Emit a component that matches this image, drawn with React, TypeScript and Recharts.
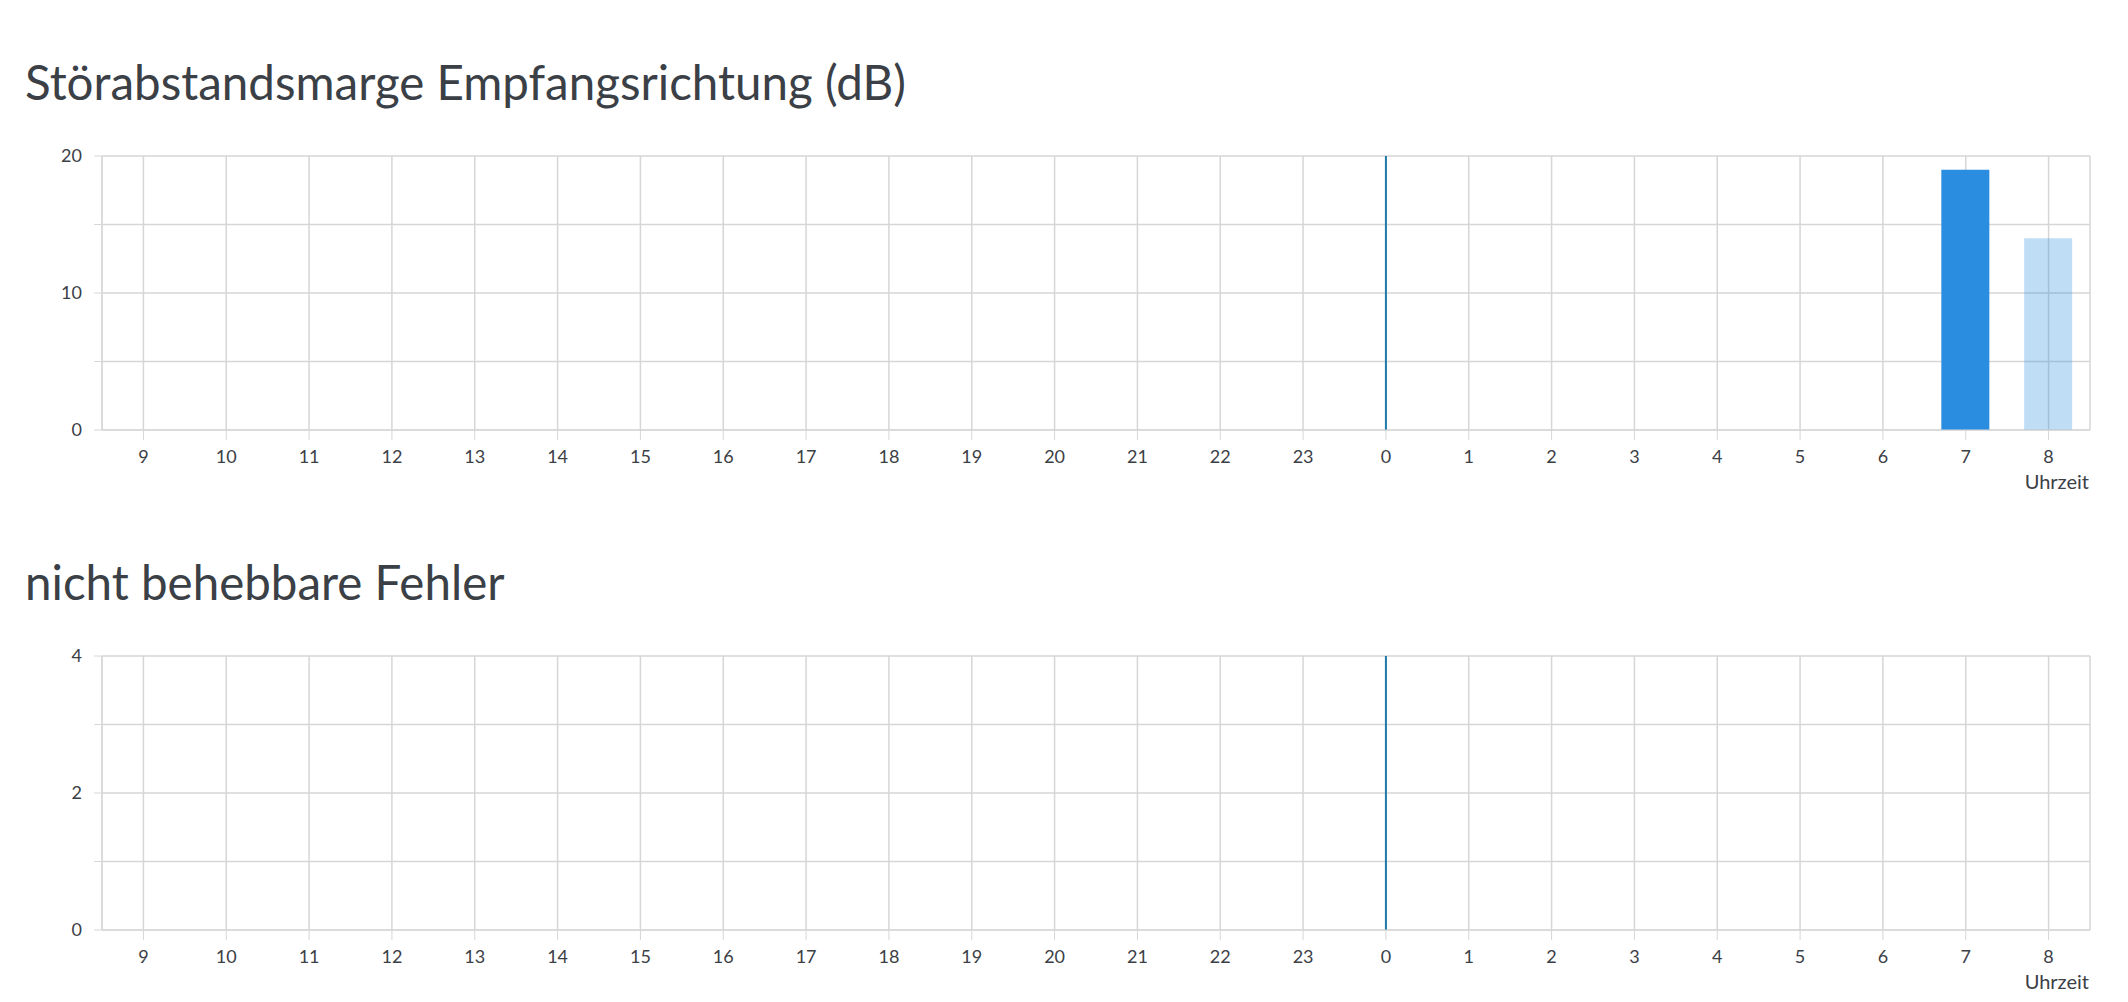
import React from 'react';
import { BarChart, Bar, XAxis, YAxis, CartesianGrid, ReferenceLine, Cell } from 'recharts';

// hours of the last 24h, day boundary at "0"
const hours = ['9', '10', '11', '12', '13', '14', '15', '16', '17', '18', '19', '20', '21', '22', '23', '0', '1', '2', '3', '4', '5', '6', '7', '8'];
const currentHour = '8';
const dayBoundary = '0';

const snrMargin = [null, null, null, null, null, null, null, null, null, null, null, null, null, null, null, null, null, null, null, null, null, null, 19, 14];
const snrTicks = [0, 5, 10, 15, 20];
const snrLabels = [0, 10, 20];

const fecErrors = [0, 0, 0, 0, 0, 0, 0, 0, 0, 0, 0, 0, 0, 0, 0, 0, 0, 0, 0, 0, 0, 0, 0, 0];
const fecTicks = [0, 1, 2, 3, 4];
const fecLabels = [0, 2, 4];

const FONT = 'Lato, "Noto Sans", sans-serif';
const GRID = '#d6d6d6';
const TEXT = '#3b4046';
const BLUE = '#2a8ddf';

type PanelProps = {
  title: string;
  values: (number | null)[];
  ticks: number[];
  labels: number[];
  top: number;
};

const Panel: React.FC<PanelProps> = ({ title, values, ticks, labels, top }) => {
  const data = hours.map((h, i) => ({ hour: h, value: values[i] }));
  return (
    <div style={{ position: 'absolute', top, left: 0, width: 2128, height: 500 }}>
      <div style={{ position: 'absolute', left: 25, top: 54, fontSize: 47.5, lineHeight: '56px', color: TEXT, fontFamily: FONT, whiteSpace: 'nowrap' }}>
        {title}
      </div>
      <div style={{ position: 'absolute', top: 130, left: 0 }}>
        <BarChart width={2128} height={370} data={data} margin={{ top: 26, right: 38, bottom: 10, left: 0 }}>
          <CartesianGrid stroke={GRID} strokeWidth={1.5} />
          <XAxis
            dataKey="hour"
            height={60}
            tickSize={10}
            tickMargin={10}
            stroke={GRID}
            tick={{ fill: TEXT, fontSize: 18, fontFamily: FONT }}
            interval={0}
            label={{ value: 'Uhrzeit', position: 'insideBottomRight', offset: 1, fill: TEXT, fontSize: 20, fontFamily: FONT }}
          />
          <YAxis
            width={102}
            type="number"
            domain={[ticks[0], ticks[ticks.length - 1]]}
            allowDataOverflow
            ticks={ticks}
            interval={0}
            tickSize={8}
            tickMargin={12}
            stroke={GRID}
            tick={{ fill: TEXT, fontSize: 18, fontFamily: FONT }}
            tickFormatter={(v: number) => (labels.includes(v) ? String(v) : '')}
          />
          <YAxis yAxisId="border" orientation="right" width={0} tick={false} tickLine={false} stroke={GRID} />
          <ReferenceLine x={dayBoundary} stroke="#1f7aa8" strokeWidth={2} />
          <Bar dataKey="value" barSize={48} isAnimationActive={false}>
            {data.map((d, i) => (
              <Cell key={`c-${i}`} fill={BLUE} fillOpacity={d.hour === currentHour ? 0.3 : 1} />
            ))}
          </Bar>
        </BarChart>
      </div>
    </div>
  );
};

export default function App() {
  return (
    <div style={{ position: 'relative', width: 2128, height: 1002, background: '#fff' }}>
      <style>{'body{margin:0}'}</style>
      <Panel title="Störabstandsmarge Empfangsrichtung (dB)" values={snrMargin} ticks={snrTicks} labels={snrLabels} top={0} />
      <Panel title="nicht behebbare Fehler" values={fecErrors} ticks={fecTicks} labels={fecLabels} top={500} />
    </div>
  );
}
